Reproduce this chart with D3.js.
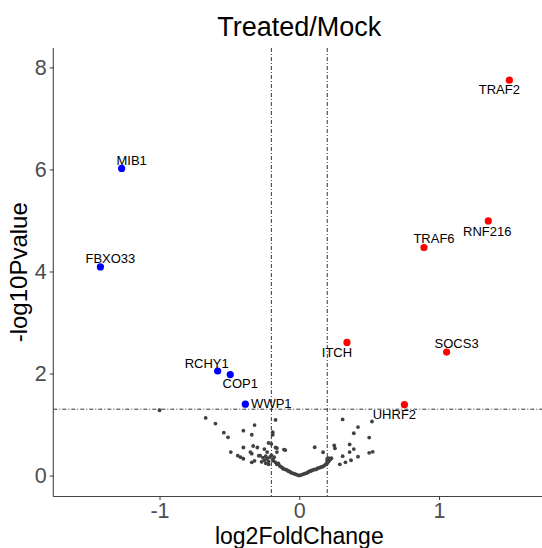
<!DOCTYPE html>
<html>
<head>
<meta charset="utf-8">
<script src="https://cdn.jsdelivr.net/npm/d3@7"></script>
<style>
  body { margin: 0; background: #fff; }
  text { font-family: "Liberation Sans", Arial, sans-serif; }
</style>
</head>
<body>
<div id="viz"></div>
<script>
// significant genes
const genes  = ["TRAF2", "RNF216", "TRAF6", "SOCS3", "ITCH", "UHRF2", "WWP1", "COP1", "RCHY1", "MIB1", "FBXO33"];
const log2fc = [1.503, 1.352, 0.892, 1.054, 0.341, 0.752, -0.386, -0.494, -0.584, -1.271, -1.423];
const log10p = [7.75, 4.99, 4.47, 2.42, 2.61, 1.39, 1.40, 1.98, 2.05, 6.02, 4.09];

// non significant genes
const bgX = [-1.00, -0.67, -0.60, -0.54, -0.51, -0.40, -0.32, -0.34, -0.17, -0.19, -0.19, -0.20,
  -0.49, -0.44, -0.42, -0.40, -0.40, -0.35, -0.34, -0.33, -0.30, -0.29, -0.32, -0.34, -0.28, -0.25,
  -0.22, -0.23, -0.17, -0.16, -0.16, -0.11, -0.10,
  -0.26, -0.25, -0.24, -0.23, -0.22, -0.21, -0.20, -0.19, -0.18, -0.24, -0.27, -0.22, -0.186, -0.162,
  -0.17, -0.16, -0.15, -0.14, -0.13, -0.12, -0.114, -0.10, -0.09, -0.08, -0.07, -0.06, -0.05, -0.04,
  -0.03, -0.02, -0.01, 0.00, 0.01, 0.02, 0.03, 0.04, 0.05, 0.06, 0.07, 0.08, 0.09, 0.10, 0.11, 0.12,
  0.13, 0.14, 0.15, 0.16, 0.17, 0.18, 0.19, 0.20, 0.20, 0.21,
  0.31, 0.42, 0.39, 0.52, 0.50, 0.11, 0.17, 0.25, 0.255, 0.36, 0.39, 0.31, 0.36, 0.42, 0.37, 0.33,
  0.29, 0.50, 0.525, 0.23, 0.22, 0.21, 0.20, 0.20];
const bgY = [1.28, 1.13, 1.02, 0.84, 0.75, 0.88, 0.99, 0.80, 1.09, 0.85, 0.80, 0.62,
  0.46, 0.39, 0.36, 0.33, 0.55, 0.46, 0.43, 0.58, 0.55, 0.39, 0.29, 0.26, 0.39, 0.52,
  0.64, 0.46, 0.55, 0.46, 0.54, 0.51, 0.50,
  0.35, 0.30, 0.38, 0.33, 0.28, 0.36, 0.40, 0.31, 0.36, 0.24, 0.27, 0.22, 0.29, 0.23,
  0.26, 0.22, 0.24, 0.19, 0.17, 0.15, 0.13, 0.12, 0.11, 0.09, 0.08, 0.06, 0.05, 0.04,
  0.03, 0.02, 0.01, 0.00, 0.01, 0.02, 0.03, 0.04, 0.05, 0.06, 0.08, 0.09, 0.10, 0.11, 0.12, 0.12,
  0.14, 0.15, 0.16, 0.17, 0.18, 0.20, 0.22, 0.24, 0.30, 0.34,
  1.10, 0.95, 0.83, 1.06, 0.745, 0.555, 0.457, 0.59, 0.535, 0.61, 0.52, 0.38, 0.46, 0.37, 0.30, 0.26,
  0.22, 0.445, 0.465, 0.34, 0.31, 0.28, 0.26, 0.33];

const xTicks = [-1, 0, 1];
const yTicks = [0, 2, 4, 6, 8];
const fcCut = 0.2;
const pCut = -Math.log10(0.05);

// label nudges (pixels), like ggrepel placed them
const nudge = {
  TRAF2: [-10, 9], RNF216: [-1, 10], TRAF6: [10, -9], SOCS3: [10, -9], ITCH: [-10, 10],
  UHRF2: [-10, 10], WWP1: [26, -1], COP1: [10, 9], RCHY1: [-11, -8], MIB1: [10, -8], FBXO33: [10, -8]
};

const width = 542, height = 548;
const margin = { left: 53.3, right: 545.3, top: 48, bottom: 496.5 };

const x = d3.scaleLinear().domain([-1.76, 1.76]).range([margin.left, margin.right]);
const y = d3.scaleLinear().domain([-0.41, 8.38]).range([margin.bottom, margin.top]);

const svg = d3.select("#viz")
    .append("svg")
    .attr("width", width)
    .attr("height", height);

// threshold lines
const thr = svg.append("g")
    .attr("stroke", "#000")
    .attr("stroke-width", 0.8)
    .attr("stroke-dasharray", "4,2,1,2");

[-fcCut, fcCut].forEach(v => {
  thr.append("line")
      .attr("x1", x(v)).attr("x2", x(v))
      .attr("y1", margin.top).attr("y2", margin.bottom);
});
thr.append("line")
    .attr("x1", margin.left).attr("x2", margin.right)
    .attr("y1", y(pCut)).attr("y2", y(pCut));

// grey points
svg.append("g")
    .attr("fill", "#404040")
    .selectAll("circle")
    .data(bgX.map((v, i) => [v, bgY[i]]))
    .enter().append("circle")
    .attr("cx", d => x(d[0]))
    .attr("cy", d => y(d[1]))
    .attr("r", 1.9);

const sig = genes.map((g, i) => ({ name: g, fc: log2fc[i], p: log10p[i] }));

svg.append("g")
    .selectAll("circle")
    .data(sig)
    .enter().append("circle")
    .attr("cx", d => x(d.fc))
    .attr("cy", d => y(d.p))
    .attr("r", 3.6)
    .attr("fill", d => d.fc > 0 ? "#ff0000" : "#0000ff");

svg.append("g")
    .attr("font-size", 13)
    .attr("fill", "#000")
    .attr("text-anchor", "middle")
    .selectAll("text")
    .data(sig)
    .enter().append("text")
    .attr("x", d => x(d.fc) + nudge[d.name][0])
    .attr("y", d => y(d.p) + nudge[d.name][1])
    .attr("dy", "0.35em")
    .text(d => d.name);

// axes
const xAxis = svg.append("g")
    .attr("transform", `translate(0,${margin.bottom})`)
    .call(d3.axisBottom(x).tickValues(xTicks).tickSize(3.5).tickPadding(3).tickFormat(d => String(d)));
const yAxis = svg.append("g")
    .attr("transform", `translate(${margin.left},0)`)
    .call(d3.axisLeft(y).tickValues(yTicks).tickSize(3.5).tickPadding(3).tickFormat(d => String(d)));

[xAxis, yAxis].forEach(a => {
  a.select(".domain").attr("stroke", "#444").attr("stroke-width", 1.1);
  a.selectAll(".tick line").attr("stroke", "#333").attr("stroke-width", 1);
  a.selectAll(".tick text")
      .attr("fill", "#4d4d4d")
      .attr("font-size", 21.5)
      .attr("font-family", "Liberation Sans, Arial, sans-serif");
});
xAxis.select(".domain").attr("d", `M${margin.left},0H${margin.right}`);
yAxis.select(".domain").attr("d", `M0,${margin.top}V${margin.bottom}`);

// titles
svg.append("text")
    .attr("x", (margin.left + margin.right) / 2)
    .attr("y", 36)
    .attr("text-anchor", "middle")
    .attr("font-size", 27)
    .text("Treated/Mock");

svg.append("text")
    .attr("x", (margin.left + margin.right) / 2)
    .attr("y", 543.5)
    .attr("text-anchor", "middle")
    .attr("font-size", 23)
    .text("log2FoldChange");

svg.append("text")
    .attr("transform", `translate(27,${(margin.top + margin.bottom) / 2}) rotate(-90)`)
    .attr("text-anchor", "middle")
    .attr("font-size", 24)
    .text("-log10Pvalue");
</script>
</body>
</html>
